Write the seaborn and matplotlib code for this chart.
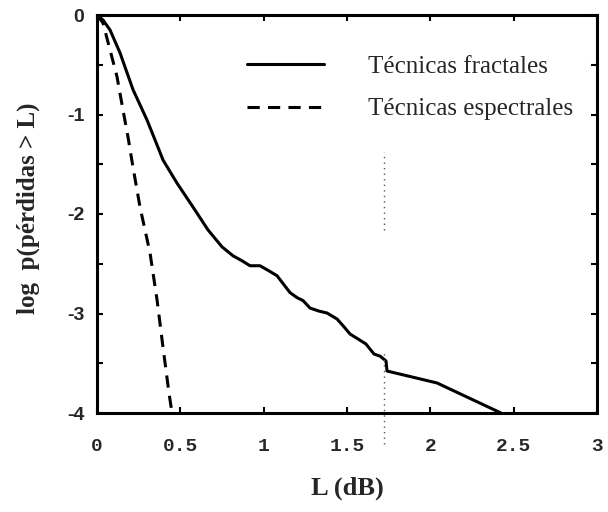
import matplotlib
matplotlib.use("Agg")
import matplotlib.pyplot as plt
import seaborn as sns
import pandas as pd
from matplotlib.ticker import MultipleLocator, FixedLocator, FormatStrFormatter

# Loss-probability curves: log p(losses > L) versus L in dB
fractal_L = [0.0, 0.036, 0.078, 0.138, 0.216, 0.300, 0.366, 0.396, 0.480, 0.576,
             0.666, 0.750, 0.816, 0.870, 0.918, 0.978, 1.030, 1.080, 1.158, 1.200,
             1.236, 1.278, 1.330, 1.380, 1.440, 1.480, 1.518, 1.570, 1.614, 1.662,
             1.700, 1.734, 1.740, 2.040, 2.424]
fractal_logp = [0.0, -0.05, -0.15, -0.38, -0.75, -1.055, -1.33, -1.457, -1.69, -1.93,
                -2.16, -2.33, -2.42, -2.47, -2.52, -2.52, -2.57, -2.62, -2.79, -2.84,
                -2.87, -2.945, -2.975, -2.995, -3.055, -3.13, -3.206, -3.26, -3.307, -3.407,
                -3.43, -3.477, -3.578, -3.698, -4.0]

spectral_L = [0.0, 0.036, 0.078, 0.120, 0.156, 0.186, 0.216, 0.258, 0.318, 0.360,
              0.396, 0.432, 0.450]
spectral_logp = [0.0, -0.08, -0.35, -0.62, -0.955, -1.226, -1.53, -1.93, -2.39, -2.86,
                 -3.34, -3.80, -4.0]

# Faint vertical dotted marker near L = 1.72 dB
marker_L = 1.72
marker_spans = [(-1.38, -2.16), (-3.38, -4.31)]

x_ticks = [0, 0.5, 1, 1.5, 2, 2.5, 3]
x_tick_labels = ["0", "0.5", "1", "1.5", "2", "2.5", "3"]
y_ticks = [0, -1, -2, -3, -4]

sns.set_theme(style="ticks")
plt.rcParams["axes.unicode_minus"] = False

fig = plt.figure(figsize=(6.08, 5.12), dpi=100)
ax = fig.add_axes([97 / 608, 1 - 413 / 512, 500 / 608, 398 / 512])

df_f = pd.DataFrame({"L": fractal_L, "logp": fractal_logp})
df_s = pd.DataFrame({"L": spectral_L, "logp": spectral_logp})

sns.lineplot(data=df_f, x="L", y="logp", ax=ax, color="black", lw=2.2,
             sort=False, estimator=None, label="Técnicas fractales")
sns.lineplot(data=df_s, x="L", y="logp", ax=ax, color="black", lw=2.2,
             sort=False, estimator=None, linestyle=(0, (4, 2.7)),
             label="Técnicas espectrales")

for lo, hi in marker_spans:
    ax.vlines(marker_L, hi, lo, colors="#555555", linestyles=(0, (1, 3)),
              lw=1.0, clip_on=False)

ax.set_xlim(0, 3)
ax.set_ylim(-4, 0)

ax.xaxis.set_major_locator(FixedLocator(x_ticks))
ax.set_xticklabels(x_tick_labels)
ax.yaxis.set_major_locator(FixedLocator(y_ticks))
ax.yaxis.set_minor_locator(MultipleLocator(0.5))
ax.yaxis.set_major_formatter(FormatStrFormatter("%d"))

ax.tick_params(axis="both", which="both", direction="in", top=True, right=True,
               length=4, width=1.5, color="black")
ax.tick_params(axis="x", pad=18, labelsize=14)
ax.tick_params(axis="y", pad=9, labelsize=14)
for lab in ax.get_xticklabels():
    lab.set_family("Liberation Mono")
    lab.set_fontweight("bold")
for lab in ax.get_yticklabels():
    lab.set_family("Liberation Sans")
    lab.set_fontweight("bold")

for sp in ax.spines.values():
    sp.set_linewidth(2.2)
    sp.set_color("black")

ax.set_xlabel("L (dB)", family="Liberation Serif", fontsize=19, fontweight="bold")
ax.set_ylabel("log  p(pérdidas > L)", family="Liberation Serif", fontsize=18,
              fontweight="bold")
ax.xaxis.set_label_coords(0.5, -0.16)
ax.yaxis.set_label_coords(-0.114, 0.515)

leg = ax.legend(loc="upper left", bbox_to_anchor=(0.274, 0.93), frameon=False,
                borderpad=0, handlelength=3.1, handletextpad=1.75,
                labelspacing=0.8, prop={"family": "Liberation Serif", "size": 18})
for line in leg.get_lines():
    line.set_linewidth(2.2)

fig.savefig("out.png", dpi=100)
